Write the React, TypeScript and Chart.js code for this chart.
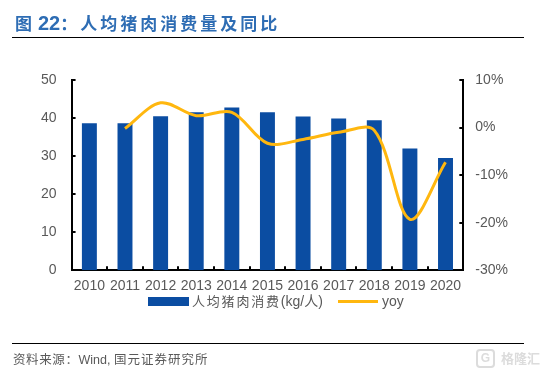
import React, { useEffect, useRef } from "react";
import { Chart, registerables } from "chart.js";

Chart.register(...registerables);

const years = ["2010", "2011", "2012", "2013", "2014", "2015", "2016", "2017", "2018", "2019", "2020"];
const consumption = [38.6, 38.6, 40.5, 41.5, 42.8, 41.5, 40.4, 39.9, 39.4, 32.0, 29.5];
const yoy = [null, -0.2, 5.2, 2.5, 3.2, -3.3, -2.5, -1.0, -0.6, -19.3, -7.3];
const leftTicks = [0, 10, 20, 30, 40, 50];
const rightTicks = [-30, -20, -10, 0, 10];
const titleText = "人均猪肉消费量及同比";
const sourceText = "资料来源：";
const sourceTail = "Wind, ";
const sourceOrg = "国元证券研究所";
const barLabel = "人均猪肉消费";
const barUnit = "(kg/人)";
const lineLabel = "yoy";

const BLUE = "#0B4DA2";
const GOLD = "#FFB70F";
const GREY = "#595959";
const FONT = '"Liberation Sans", "Noto Sans CJK SC", sans-serif';

const inwardTicks = {
  id: "inwardTicks",
  afterDatasetsDraw(chart: any) {
    const { ctx, scales, chartArea } = chart;
    ctx.save();
    ctx.strokeStyle = "#000";
    ctx.lineWidth = 2;
    const { x, y, y1 } = scales;
    const step = x.getPixelForValue(1) - x.getPixelForValue(0);
    ctx.beginPath();
    years.forEach((_, i) => {
      const px = Math.round(x.getPixelForValue(i) - step / 2);
      ctx.moveTo(px, chartArea.bottom);
      ctx.lineTo(px, chartArea.bottom - 4);
    });
    leftTicks.forEach((v) => {
      const py = Math.round(y.getPixelForValue(v));
      ctx.moveTo(chartArea.left, py);
      ctx.lineTo(chartArea.left + 4, py);
    });
    rightTicks.forEach((v) => {
      const py = Math.round(y1.getPixelForValue(v));
      ctx.moveTo(chartArea.right, py);
      ctx.lineTo(chartArea.right - 4, py);
    });
    ctx.stroke();
    ctx.restore();
  },
};

export default function App() {
  const ref = useRef<HTMLCanvasElement | null>(null);
  useEffect(() => {
    document.body.style.margin = "0";
    const chart = new Chart(ref.current as HTMLCanvasElement, {
      type: "bar",
      data: {
        labels: years,
        datasets: [
          {
            type: "line",
            label: lineLabel,
            data: yoy,
            yAxisID: "y1",
            borderColor: GOLD,
            backgroundColor: GOLD,
            borderWidth: 3,
            tension: 0.33,
            pointRadius: 0,
            order: 0,
          },
          {
            type: "bar",
            label: barLabel + barUnit,
            data: consumption,
            yAxisID: "y",
            backgroundColor: BLUE,
            barPercentage: 0.42,
            categoryPercentage: 1,
            order: 1,
          },
        ],
      } as any,
      options: {
        responsive: false,
        animation: false,
        layout: { padding: { left: 26, right: 31, top: 80, bottom: 73 } },
        plugins: {
          title: { display: false },
          tooltip: { enabled: false },
          legend: { display: false },
        },
        scales: {
          x: {
            grid: { display: false, drawTicks: false },
            border: { color: "#000", width: 2 },
            ticks: { color: GREY, font: { family: FONT, size: 14 }, padding: 8, maxRotation: 0, autoSkip: false },
          },
          y: {
            position: "left",
            min: 0,
            max: 50,
            grid: { display: false, drawTicks: false },
            border: { color: "#000", width: 2 },
            afterBuildTicks: (s: any) => { s.ticks = leftTicks.map((value) => ({ value })); },
            ticks: { color: GREY, font: { family: FONT, size: 14 }, padding: 15 },
          },
          y1: {
            position: "right",
            min: -30,
            max: 10,
            grid: { display: false, drawTicks: false },
            border: { color: "#000", width: 2 },
            afterBuildTicks: (s: any) => { s.ticks = rightTicks.map((value) => ({ value })); },
            ticks: { color: GREY, font: { family: FONT, size: 14 }, padding: 12, callback: (v: any) => `${v}%` },
          },
        },
      } as any,
      plugins: [inwardTicks] as any,
    });
    return () => chart.destroy();
  }, []);

  const abs = (s: React.CSSProperties): React.CSSProperties => ({ position: "absolute", whiteSpace: "nowrap", ...s });
  return (
    <div style={{ position: "relative", width: 551, height: 376, overflow: "hidden", background: "#fff", fontFamily: FONT }}>
      <canvas ref={ref} width={551} height={376} style={{ display: "block" }} />
      <div style={abs({ left: 15, top: 12, color: "#2E6DB4", fontWeight: 700, fontSize: 17, lineHeight: "22px" })}>
        <span>图</span>
        <span style={{ fontSize: 20, marginLeft: 6 }}>22</span>
        <span style={{ letterSpacing: 3 }}>：{titleText}</span>
      </div>
      <div style={abs({ left: 12, top: 37, width: 512, height: 1, background: "#000" })} />

      <div style={abs({ left: 148, top: 297, width: 41, height: 9, background: BLUE })} />
      <div style={abs({ left: 192, top: 293, color: GREY, fontSize: 14, lineHeight: "17px" })}>
        <span style={{ fontSize: 13, letterSpacing: 1.8 }}>{barLabel}</span>
        <span>{barUnit}</span>
      </div>
      <div style={abs({ left: 338, top: 300, width: 40, height: 3, background: GOLD })} />
      <div style={abs({ left: 382, top: 293, color: GREY, fontSize: 14, lineHeight: "17px" })}>{lineLabel}</div>

      <div style={abs({ left: 12, top: 343, width: 512, height: 1, background: "#000" })} />
      <div style={abs({ left: 13, top: 352, color: GREY, fontSize: 12.5, lineHeight: "16px" })}>
        <span style={{ letterSpacing: 0.6 }}>{sourceText}</span>
        <span>{sourceTail}</span>
        <span style={{ letterSpacing: 1 }}>{sourceOrg}</span>
      </div>
      <div style={abs({ left: 476, top: 349, width: 15, height: 15, border: "2px solid #DCDCDC", borderRadius: 4, color: "#DCDCDC", fontSize: 12, fontWeight: 700, textAlign: "center", lineHeight: "15px" })}>G</div>
      <div style={abs({ left: 501, top: 351, color: "#DCDCDC", fontWeight: 700, fontSize: 13, lineHeight: "16px" })}>格隆汇</div>
    </div>
  );
}
